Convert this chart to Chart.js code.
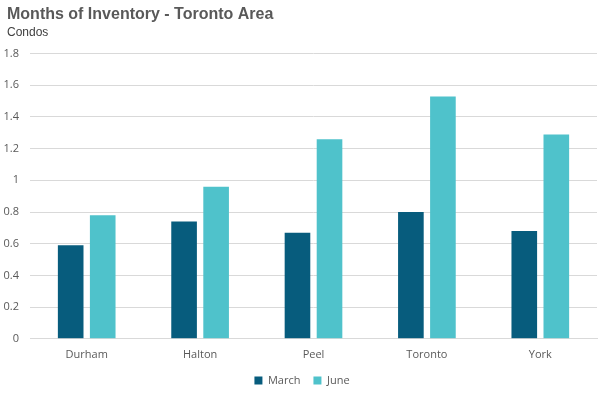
<!DOCTYPE html>
<html><head><meta charset="utf-8">
<script src="https://cdn.jsdelivr.net/npm/chart.js@4"></script>
<style>html,body{margin:0;padding:0;background:#fff;}#wrap{width:603px;height:398px;position:relative;}</style>
</head><body><div id="wrap"><canvas id="c" width="603" height="398"></canvas></div>
<script>
const categories = ["Durham", "Halton", "Peel", "Toronto", "York"];
const march = [0.59, 0.74, 0.67, 0.80, 0.68];
const june = [0.78, 0.96, 1.26, 1.53, 1.29];
const seriesNames = ["March", "June"];

const widenYLabelArea = {
  id: 'widenYLabelArea',
  afterLayout(chart) { chart.scales.y.left = 0; }
};

new Chart(document.getElementById('c'), {
  type: 'bar',
  data: {
    labels: categories,
    datasets: [
      {label: seriesNames[0], data: march, backgroundColor: '#075C7D', categoryPercentage: 0.565, barPercentage: 0.8},
      {label: seriesNames[1], data: june, backgroundColor: '#4FC2CB', categoryPercentage: 0.565, barPercentage: 0.8}
    ]
  },
  plugins: [widenYLabelArea],
  options: {
    responsive: false,
    animation: false,
    layout: {padding: {left: 7, right: 6, top: 1, bottom: 2}},
    plugins: {
      title: {display: true, text: 'Months of Inventory - Toronto Area', align: 'start', color: '#595959',
        font: {family: 'Liberation Sans, Arial, sans-serif', size: 16, weight: 'bold'}, padding: {top: 4, bottom: 0}},
      subtitle: {display: true, text: 'Condos', align: 'start', color: '#404040',
        font: {family: 'Liberation Sans, Arial, sans-serif', size: 12}, padding: {top: 1, bottom: 14}},
      legend: {position: 'bottom', labels: {boxWidth: 8, boxHeight: 8, color: '#595959', padding: 13,
        font: {family: 'Open Sans, sans-serif', size: 11}}},
      tooltip: {enabled: false}
    },
    scales: {
      x: {grid: {display: false}, border: {display: true, color: '#d9d9d9'},
        ticks: {color: '#595959', font: {family: 'Open Sans, sans-serif', size: 11}, padding: 1}},
      y: {min: 0, max: 1.8, grid: {color: '#d9d9d9', drawTicks: false}, border: {display: false},
        afterFit: (s) => { s.width = 23; },
        ticks: {stepSize: 0.2, color: '#595959', padding: 11, font: {family: 'Open Sans, sans-serif', size: 11},
          callback: (v) => String(Math.round(v * 10) / 10)}}
    }
  }
});
</script></body></html>
